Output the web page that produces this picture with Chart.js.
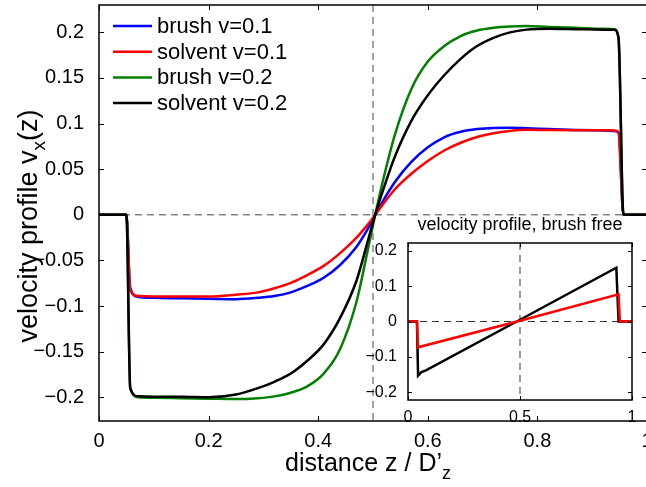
<!DOCTYPE html>
<html>
<head>
<meta charset="utf-8">
<script src="https://cdn.jsdelivr.net/npm/chart.js@4.4.0/dist/chart.umd.min.js"></script>
<style>
  html, body { margin: 0; padding: 0; background: #fff; overflow: hidden; }
  #wrap { position: relative; width: 646px; height: 487px; overflow: hidden; }
  #main { position: absolute; left: 0; top: 0; }
  #inset { position: absolute; left: 360px; top: 205px; }
</style>
</head>
<body>
<div id="wrap">
  <canvas id="main" width="700" height="487"></canvas>
  <canvas id="inset" width="286" height="230"></canvas>
</div>
<script>
// main plot: distance z / D'z
const zMain = [0, 0.05, 0.057, 0.072, 0.1, 0.15, 0.2, 0.25, 0.29, 0.32, 0.35, 0.38, 0.41, 0.44, 0.47, 0.49, 0.504,
  0.52, 0.54, 0.57, 0.6, 0.63, 0.66, 0.69, 0.72, 0.75, 0.78, 0.82, 0.87, 0.92, 0.94, 0.948, 0.957, 1];
const brushV01 = [0, 0, -0.080, -0.090, -0.091, -0.0915, -0.092, -0.0925, -0.091, -0.089, -0.085, -0.078, -0.069,
  -0.055, -0.035, -0.016, 0, 0.017, 0.036, 0.058, 0.074, 0.085, 0.091, 0.094, 0.0953, 0.0955, 0.095, 0.094, 0.093,
  0.0925, 0.092, 0.090, 0, 0];
const solventV01 = [0, 0, -0.083, -0.089, -0.0895, -0.0895, -0.0895, -0.0875, -0.085, -0.0805, -0.0745, -0.066, -0.056,
  -0.042, -0.025, -0.011, 0, 0.013, 0.028, 0.045, 0.059, 0.0705, 0.079, 0.0853, 0.0895, 0.092, 0.0932, 0.093, 0.0928,
  0.0927, 0.0925, 0.091, 0, 0];
const brushV02 = [0, 0, -0.19, -0.2, -0.2005, -0.201, -0.2015, -0.202, -0.201, -0.199, -0.195, -0.188, -0.174, -0.147,
  -0.095, -0.04, 0, 0.042, 0.088, 0.138, 0.168, 0.185, 0.196, 0.202, 0.205, 0.2065, 0.207, 0.206, 0.205, 0.204, 0.2035,
  0.193, 0, 0];
const solventV02 = [0, 0, -0.19, -0.199, -0.1995, -0.1995, -0.2, -0.197, -0.19, -0.183, -0.174, -0.16, -0.142, -0.113,
  -0.072, -0.03, 0, 0.03, 0.064, 0.103, 0.131, 0.153, 0.171, 0.185, 0.194, 0.2, 0.203, 0.204, 0.2035, 0.203, 0.203,
  0.195, 0, 0];

const seriesLabels = ["brush v=0.1", "solvent v=0.1", "brush v=0.2", "solvent v=0.2"];
const seriesColors = ["#0000ff", "#ff0000", "#008000", "#000000"];

const xTicks = [0, 0.2, 0.4, 0.6, 0.8, 1];
const xTickLabels = ["0", "0.2", "0.4", "0.6", "0.8", "1"];
const yTicks = [-0.2, -0.15, -0.1, -0.05, 0, 0.05, 0.1, 0.15, 0.2];
const yTickLabels = ["\u22120.2", "\u22120.15", "\u22120.1", "\u22120.05", "0", "0.05", "0.1", "0.15", "0.2"];

// inset: velocity profile, brush free
const zInsetV01 = [0, 0.04, 0.045, 0.5, 0.94, 0.946, 1];
const insetV01 = [0, 0, -0.073, 0.002, 0.077, 0, 0];
const zInsetV02 = [0, 0.04, 0.045, 0.06, 0.08, 0.5, 0.93, 0.94, 1];
const insetV02 = [0, 0, -0.153, -0.143, -0.138, 0.005, 0.152, 0, 0];

const insetXTicks = [0, 0.5, 1];
const insetXTickLabels = ["0", "0.5", "1"];
const insetYTicks = [-0.2, -0.1, 0, 0.1, 0.2];
const insetYTickLabels = ["\u22120.2", "\u22120.1", "0", "0.1", "0.2"];

const FONT = '"Liberation Sans", Arial, sans-serif';

const pts = (xs, ys) => xs.map((x, i) => ({ x: x, y: ys[i] }));

// draws text with subscript pieces, centred on (cx, baseline)
function drawSub(ctx, parts, cx, base, size, subSize) {
  let w = 0;
  parts.forEach(p => {
    ctx.font = (p[1] ? subSize : size) + "px " + FONT;
    w += ctx.measureText(p[0]).width;
  });
  let x = cx - w / 2;
  parts.forEach(p => {
    ctx.font = (p[1] ? subSize : size) + "px " + FONT;
    ctx.fillText(p[0], x, base + (p[1] ? size * 0.3 : 0));
    x += ctx.measureText(p[0]).width;
  });
}

function frame(opts) {
  return {
    id: "frame",
    beforeDraw(chart) {
      if (!opts.fill) return;
      const a = chart.chartArea, ctx = chart.ctx;
      ctx.save();
      ctx.fillStyle = "#fff";
      ctx.fillRect(a.left, a.top, a.right - a.left, a.bottom - a.top);
      ctx.restore();
    },
    beforeDatasetsDraw(chart) {
      const a = chart.chartArea, ctx = chart.ctx;
      const xs = chart.scales.x, ys = chart.scales.y;
      const px = xs.getPixelForValue(0.5), py = ys.getPixelForValue(0);
      ctx.save();
      ctx.strokeStyle = opts.dashColor;
      ctx.lineWidth = 1;
      ctx.setLineDash([7, 5]);
      ctx.beginPath();
      ctx.moveTo(px, a.top); ctx.lineTo(px, a.bottom);
      ctx.moveTo(a.left, py); ctx.lineTo(a.right, py);
      ctx.stroke();
      ctx.restore();
    },
    afterDatasetsDraw(chart) {
      const a = chart.chartArea, ctx = chart.ctx;
      const xs = chart.scales.x, ys = chart.scales.y;
      const t = opts.tick;
      ctx.save();
      ctx.strokeStyle = "#000";
      ctx.lineWidth = opts.lw;
      ctx.strokeRect(a.left, a.top, a.right - a.left, a.bottom - a.top);
      ctx.lineWidth = 1;
      ctx.beginPath();
      opts.xTicks.forEach(v => {
        const p = Math.round(xs.getPixelForValue(v)) + 0.5;
        ctx.moveTo(p, a.bottom); ctx.lineTo(p, a.bottom - t);
        ctx.moveTo(p, a.top); ctx.lineTo(p, a.top + t);
      });
      opts.yTicks.forEach(v => {
        const p = Math.round(ys.getPixelForValue(v)) + 0.5;
        ctx.moveTo(a.left, p); ctx.lineTo(a.left + t, p);
        ctx.moveTo(a.right, p); ctx.lineTo(a.right - t, p);
      });
      ctx.stroke();
      ctx.restore();
    },
    afterDraw(chart) {
      if (opts.extra) opts.extra(chart);
    }
  };
}

function axis(min, max, ticks, labels, size, pad, fitKey, fitVal) {
  return {
    type: "linear",
    min: min,
    max: max,
    grid: { display: false },
    border: { display: false },
    afterBuildTicks: s => { s.ticks = ticks.map(v => ({ value: v })); },
    afterFit: s => {
      s[fitKey] = fitVal;
      s.paddingLeft = 0; s.paddingRight = 0; s.paddingTop = 0; s.paddingBottom = 0;
    },
    ticks: {
      color: "#000",
      font: { family: FONT, size: size },
      padding: pad,
      maxRotation: 0,
      autoSkip: false,
      callback: (v, i) => labels[i]
    }
  };
}

const mainData = [brushV01, solventV01, brushV02, solventV02];

new Chart(document.getElementById("main"), {
  type: "line",
  data: {
    datasets: mainData.map((ys, i) => ({
      label: seriesLabels[i],
      data: pts(zMain, ys),
      borderColor: seriesColors[i],
      order: 3 - i
    }))
  },
  options: {
    responsive: false,
    animation: false,
    devicePixelRatio: 1,
    layout: { padding: { left: 0, right: 53, top: 5, bottom: 0 } },
    elements: {
      point: { radius: 0 },
      line: { borderWidth: 2.5, cubicInterpolationMode: "monotone", fill: false }
    },
    plugins: { legend: { display: false }, tooltip: { enabled: false } },
    scales: {
      x: axis(0, 1, xTicks, xTickLabels, 20, 0, "height", 66),
      y: axis(-0.226, 0.23, yTicks, yTickLabels, 20, 7, "width", 99)
    }
  },
  plugins: [frame({
    dashColor: "#444", lw: 1.5, tick: 5, xTicks: xTicks, yTicks: yTicks,
    extra: chart => {
      const ctx = chart.ctx, a = chart.chartArea;
      ctx.save();
      ctx.fillStyle = "#000";
      // legend
      ctx.textBaseline = "middle";
      ctx.font = "22px " + FONT;
      seriesLabels.forEach((lab, i) => {
        const y = a.top + 21 + i * 25.7;
        ctx.strokeStyle = seriesColors[i];
        ctx.lineWidth = 2.5;
        ctx.beginPath();
        ctx.moveTo(a.left + 14, y); ctx.lineTo(a.left + 53, y);
        ctx.stroke();
        ctx.fillText(lab, a.left + 58, y + 1);
      });
      // axis titles
      ctx.textBaseline = "alphabetic";
      drawSub(ctx, [["distance z / D\u2019", 0], ["z", 1]], 368, 471, 25, 18);
      ctx.translate(37, 226);
      ctx.rotate(-Math.PI / 2);
      drawSub(ctx, [["velocity profile v", 0], ["x", 1], ["(z)", 0]], 0, 0, 27, 19);
      ctx.restore();
    }
  })]
});

new Chart(document.getElementById("inset"), {
  type: "line",
  data: {
    datasets: [
      { label: "solvent v=0.1", data: pts(zInsetV01, insetV01), borderColor: "#ff0000", order: 0 },
      { label: "solvent v=0.2", data: pts(zInsetV02, insetV02), borderColor: "#000000", order: 1 }
    ]
  },
  options: {
    responsive: false,
    animation: false,
    devicePixelRatio: 1,
    layout: { padding: { left: 0, right: 14, top: 38, bottom: 0 } },
    elements: {
      point: { radius: 0 },
      line: { borderWidth: 2.5, tension: 0, fill: false }
    },
    plugins: { legend: { display: false }, tooltip: { enabled: false } },
    scales: {
      x: axis(0, 1, insetXTicks, insetXTickLabels, 16, 0, "height", 35),
      y: axis(-0.222, 0.222, insetYTicks, insetYTickLabels, 16, 3, "width", 48)
    }
  },
  plugins: [frame({
    fill: true, dashColor: "#333", lw: 1.5, tick: 4, xTicks: insetXTicks, yTicks: insetYTicks,
    extra: chart => {
      const ctx = chart.ctx, a = chart.chartArea;
      ctx.save();
      ctx.fillStyle = "#000";
      ctx.textAlign = "center";
      ctx.textBaseline = "middle";
      ctx.font = "18px " + FONT;
      ctx.fillText("velocity profile, brush free", (a.left + a.right) / 2, 20);
      ctx.restore();
    }
  })]
});
</script>
</body>
</html>
